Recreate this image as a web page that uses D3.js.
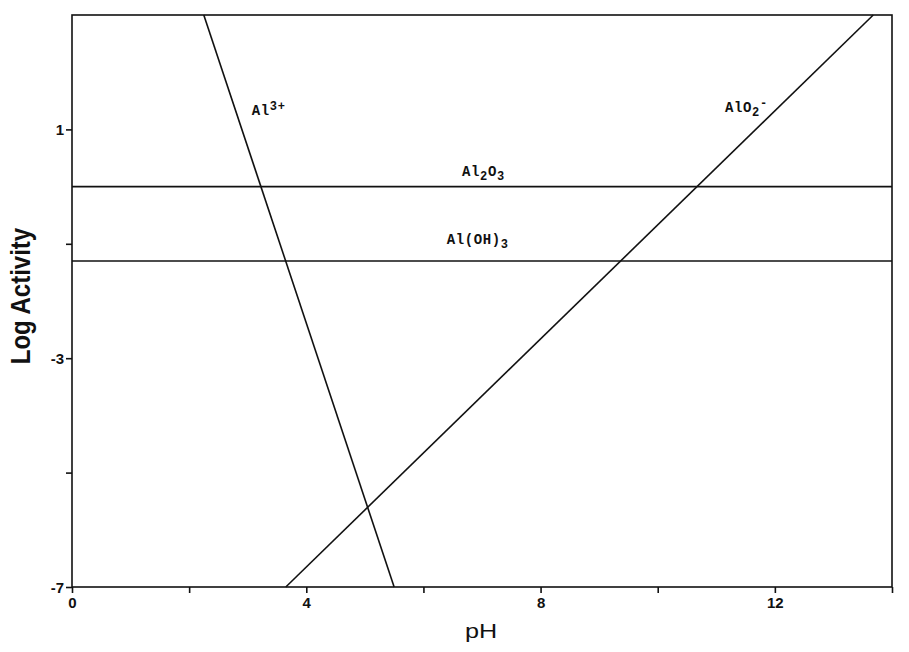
<!DOCTYPE html>
<html>
<head>
<meta charset="utf-8">
<script src="https://cdn.jsdelivr.net/npm/d3@7"></script>
<style>
  html, body { margin: 0; padding: 0; background: #fff; }
  svg { display: block; }
</style>
</head>
<body>
<svg id="chart" width="909" height="652"></svg>
<script>
// ---- data ----
const xDomain = [0, 14];
const yDomain = [-7, 3];
const xMajorTicks = [0, 4, 8, 12];
const xMinorTicks = [2, 6, 10, 14];
const yMajorTicks = [1, -3, -7];
const yMinorTicks = [-1, -5];

// sloped lines: pH endpoints and log activity endpoints
const al3pH = [2.25, 5.5];
const al3Log = [3, -7];
const alo2pH = [3.65, 13.68];
const alo2Log = [-7, 3];
// horizontal solubility lines (log activity)
const al2o3Log = 0;
const aloh3Log = -1.3;

// labels (pH, log activity, parts)
const labelPH = [3.07, 11.15, 6.66, 6.40];
const labelLog = [1.26, 1.31, 0.19, -1.0];
const labelParts = [
  [["Al", 0], ["3+", 1]],
  [["AlO", 0], ["2", -1], ["-", 1]],
  [["Al", 0], ["2", -1], ["O", 0], ["3", -1]],
  [["Al(OH)", 0], ["3", -1]]
];

// ---- chart ----
const svg = d3.select("#chart");
const x = d3.scaleLinear().domain(xDomain).range([72, 892]);
const y = d3.scaleLinear().domain(yDomain).range([587, 15]);

const ink = "#111";
const fmt = d => String(d);

// frame
svg.append("rect")
  .attr("x", x(0)).attr("y", y(3))
  .attr("width", x(14) - x(0)).attr("height", y(-7) - y(3))
  .attr("fill", "none").attr("stroke", ink).attr("stroke-width", 1.6);

// axes
const xAxis = svg.append("g").attr("transform", `translate(0,${y(-7)})`)
  .call(d3.axisBottom(x).tickValues(xMajorTicks).tickSize(6).tickPadding(4).tickFormat(fmt));
const xAxisMinor = svg.append("g").attr("transform", `translate(0,${y(-7)})`)
  .call(d3.axisBottom(x).tickValues(xMinorTicks).tickSize(6).tickFormat(""));
const yAxis = svg.append("g").attr("transform", `translate(${x(0)},0)`)
  .call(d3.axisLeft(y).tickValues(yMajorTicks).tickSize(6).tickPadding(2).tickFormat(fmt));
const yAxisMinor = svg.append("g").attr("transform", `translate(${x(0)},0)`)
  .call(d3.axisLeft(y).tickValues(yMinorTicks).tickSize(6).tickFormat(""));

[xAxis, xAxisMinor, yAxis, yAxisMinor].forEach(g => {
  g.select(".domain").remove();
  g.selectAll(".tick line").attr("stroke", ink).attr("stroke-width", 1.6);
  g.selectAll(".tick text")
    .attr("fill", ink)
    .attr("font-family", "'Liberation Sans', Arial, sans-serif")
    .attr("font-weight", "bold")
    .attr("font-size", 15);
});
yAxis.selectAll(".tick text").attr("dy", "0.35em");

// lines
const line = d3.line().x(d => x(d[0])).y(d => y(d[1]));
const lines = [
  d3.zip(al3pH, al3Log),
  d3.zip(alo2pH, alo2Log),
  [[xDomain[0], al2o3Log], [xDomain[1], al2o3Log]],
  [[xDomain[0], aloh3Log], [xDomain[1], aloh3Log]]
];
svg.append("g").selectAll("path").data(lines).join("path")
  .attr("d", line)
  .attr("fill", "none")
  .attr("stroke", ink)
  .attr("stroke-width", 1.6);

// species labels
const labels = svg.append("g")
  .attr("font-family", "'Liberation Mono', 'Courier New', monospace")
  .attr("font-weight", "bold")
  .attr("font-size", 14)
  .attr("letter-spacing", 0.6)
  .attr("fill", ink);
labelParts.forEach((parts, i) => {
  const t = labels.append("text").attr("x", x(labelPH[i])).attr("y", y(labelLog[i]));
  parts.forEach(([s, shift]) => {
    const ts = t.append("tspan").text(s);
    if (shift > 0) ts.attr("baseline-shift", "45%").attr("font-size", 12);
    if (shift < 0) ts.attr("baseline-shift", "-35%").attr("font-size", 12);
  });
});

// axis titles
svg.append("text")
  .attr("transform", "translate(481,638) scale(1.2,1)")
  .attr("text-anchor", "middle")
  .attr("font-family", "'Liberation Sans', Arial, sans-serif")
  .attr("font-size", 21)
  .attr("fill", ink)
  .text("pH");
svg.append("text")
  .attr("transform", `translate(30,296) rotate(-90) scale(1,1.12)`)
  .attr("text-anchor", "middle")
  .attr("font-family", "'Liberation Sans', Arial, sans-serif")
  .attr("font-weight", "bold")
  .attr("font-size", 24)
  .attr("fill", ink)
  .text("Log Activity");
</script>
</body>
</html>
